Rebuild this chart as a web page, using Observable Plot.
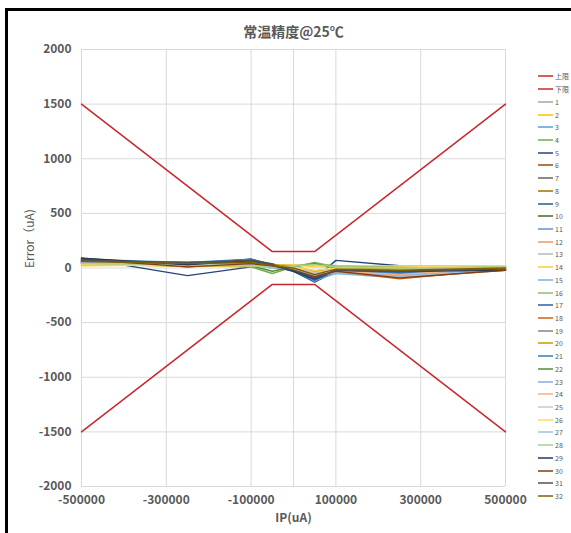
<!DOCTYPE html>
<html><head><meta charset="utf-8">
<script src="https://cdn.jsdelivr.net/npm/d3@7"></script>
<script src="https://cdn.jsdelivr.net/npm/@observablehq/plot@0.6"></script>
<style>
body{margin:0;background:#fff;}
#wrap{position:relative;width:571px;height:533px;overflow:hidden;background:#fff;font-family:"Noto Sans CJK SC","Noto Sans",sans-serif;}
#wrap svg.main{position:absolute;left:0;top:0;}
#bt{position:absolute;left:5px;top:8px;width:566px;height:3px;background:#000;}
#bl{position:absolute;left:5px;top:8px;width:3px;height:525px;background:#000;}
#legend{position:absolute;left:538px;top:70px;}
.li{height:12.73px;display:flex;align-items:center;font-size:7px;color:#595959;white-space:nowrap;}
.li svg{margin-right:2px;}
</style></head><body><div id="wrap"><div id="bt"></div><div id="bl"></div><div id="legend"></div></div>
<script>
const xValues = [-500000, -250000, -100000, -50000, 0, 50000, 100000, 250000, 500000];
const limitX = [-500000, -50000, 50000, 500000];
const upperLimit = [1500, 150, 150, 1500];
const lowerLimit = [-1500, -150, -150, -1500];
const limitNames = ["上限", "下限"];
const limitColor = "#C8282D";
const seriesNames = d3.range(1, 33).map(String);
const seriesColors = ["#A5A5A5","#FFC000","#5B9BD5","#70AD47","#264478","#9E480E","#636363","#997300","#255E91","#43682B","#698ED0","#F1975A","#B7B7B7","#FFCD33","#7CAFDD","#8CC168","#335AA1","#D26012","#848484","#CC9A00","#327DC2","#5A8A39","#8FAADC","#F4B183","#C9C9C9","#FFD966","#9DC3E6","#A9D18E","#203864","#843C0B","#525252","#7F6000"];
const seriesValues = [
  [60, 40, 30, 20, 0, -60, -20, -30, -10],
  [40, 30, 20, 30, 10, -40, 0, 10, 20],
  [80, 50, 60, 20, -10, -80, -30, -90, -20],
  [30, 20, 10, -50, 10, 50, 10, 10, 10],
  [90, -70, 10, 30, -20, -100, 70, 20, -10],
  [70, 10, 40, 30, -10, -90, -40, -80, -10],
  [50, 30, 70, 40, -20, -70, -20, -40, -10],
  [40, 50, 60, 20, -10, -80, -10, -20, 0],
  [60, 40, 80, 30, -30, -130, -30, -50, -10],
  [90, 20, 80, 30, -20, -90, -20, -30, -10],
  [70, 40, 30, 10, -20, -120, -40, -60, -10],
  [50, 20, 40, 20, 0, -50, -20, -70, 0],
  [30, 40, 20, 10, 0, -40, 0, -20, 10],
  [20, 30, 10, 20, 30, 10, 10, 20, 20],
  [60, 30, 30, 0, -20, -110, -50, -90, -10],
  [40, 30, 20, 10, 20, 40, 20, 10, 10],
  [80, 20, 60, 20, -30, -110, -30, -40, -20],
  [60, 20, 30, 20, -10, -70, -30, -100, -10],
  [50, 40, 50, 30, -10, -60, -10, -30, 0],
  [30, 20, 20, 30, 20, -30, 0, 0, 10],
  [70, 50, 80, 20, -20, -100, -20, -50, -10],
  [50, 30, 20, -30, 10, 40, 0, 10, 10],
  [60, 40, 40, 10, -10, -70, -40, -70, 0],
  [50, 30, 30, 20, 0, -50, -30, -60, 0],
  [40, 40, 30, 20, 0, -40, -10, -20, 10],
  [30, 20, 20, 10, 10, -20, 0, 10, 20],
  [50, 40, 30, 10, -10, -80, -40, -80, -10],
  [40, 30, 20, 0, 20, 30, 10, 0, 10],
  [90, 30, 70, 30, -30, -100, -20, -30, -20],
  [80, 10, 40, 20, -20, -80, -30, -90, -20],
  [70, 50, 70, 30, -20, -90, -20, -30, -10],
  [60, 40, 50, 20, 0, -60, -10, -20, 0]
];
const xTickLabels = [-500000, -300000, -100000, 100000, 300000, 500000];
const xGrid = [-500000, -300000, -100000, 0, 100000, 300000, 500000];
const yTicks = [-2000, -1500, -1000, -500, 0, 500, 1000, 1500, 2000];
const titleText = "常温精度@25℃";
const xTitle = "IP(uA)";
const yTitle = "Error（uA)";

const limitRows = [];
limitX.forEach((x, i) => {
  limitRows.push({name: limitNames[0], x, y: upperLimit[i]});
  limitRows.push({name: limitNames[1], x, y: lowerLimit[i]});
});
const seriesRows = [];
seriesValues.forEach((vals, s) => vals.forEach((v, i) => seriesRows.push({name: seriesNames[s], x: xValues[i], y: v})));

const txt = {fill: "#595959", fontWeight: "bold"};
const chart = Plot.plot({
  width: 571, height: 533,
  marginLeft: 81, marginRight: 66, marginTop: 49, marginBottom: 47,
  style: {fontFamily: '"Noto Sans CJK SC","Noto Sans",sans-serif', background: "transparent"},
  x: {domain: [-500000, 500000]},
  y: {domain: [-2000, 2000]},
  color: {type: "ordinal", domain: seriesNames, range: seriesColors},
  marks: [
    Plot.ruleY(yTicks, {stroke: "#D9D9D9", strokeWidth: 1}),
    Plot.ruleX(xGrid, {stroke: "#D9D9D9", strokeWidth: 1}),
    Plot.line(seriesRows, {x: "x", y: "y", z: "name", stroke: "name", strokeWidth: 1.4}),
    Plot.line(limitRows, {x: "x", y: "y", z: "name", stroke: limitColor, strokeWidth: 1.5}),
    Plot.axisX(xTickLabels, {tickSize: 0, tickPadding: 9, tickFormat: d => String(d), fontSize: 12, ...txt, label: null}),
    Plot.axisY(yTicks, {tickSize: 0, tickPadding: 10, tickFormat: d => String(d), fontSize: 12, ...txt, label: null}),
    Plot.text([xTitle], {text: d => d, frameAnchor: "bottom", dy: 35, fontSize: 12, ...txt}),
    Plot.text([yTitle], {text: d => d, frameAnchor: "left", dx: -51, rotate: -90, fontSize: 12, fill: "#595959"}),
    Plot.text([titleText], {text: d => d, frameAnchor: "top", dy: -22, fontSize: 14, ...txt})
  ]
});
chart.classList.add("main");
document.getElementById("wrap").appendChild(chart);

const legend = document.getElementById("legend");
const entries = limitNames.map(n => ({name: n, color: limitColor})).concat(seriesNames.map((n, i) => ({name: n, color: seriesColors[i]})));
entries.forEach(e => {
  const div = document.createElement("div");
  div.className = "li";
  div.innerHTML = `<svg width="15" height="4"><line x1="0" x2="15" y1="2" y2="2" stroke="${e.color}" stroke-width="1.5"/></svg><span>${e.name}</span>`;
  legend.appendChild(div);
});
</script></body></html>
